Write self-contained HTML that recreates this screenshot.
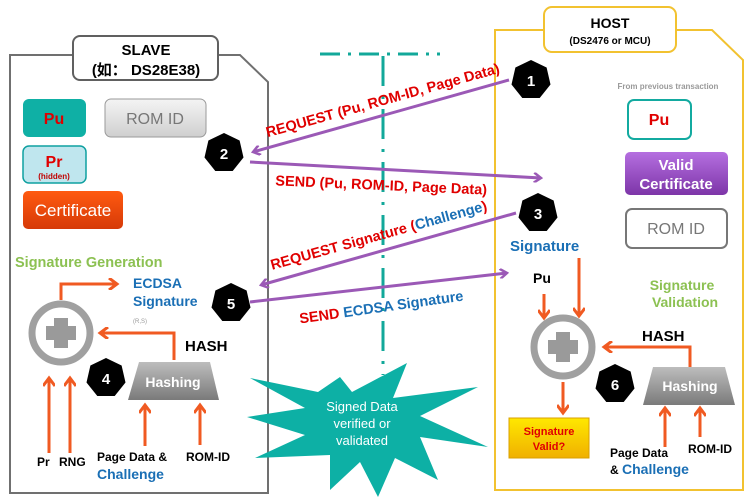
<!DOCTYPE html>
<html><head><meta charset="utf-8"><style>
body{margin:0;background:#fff}
svg{display:block;font-family:"Liberation Sans","Noto Sans CJK SC",sans-serif}
</style></head><body>
<svg width="750" height="499" viewBox="0 0 750 499" xmlns="http://www.w3.org/2000/svg">
<defs>
<polygon id="hep" points="0,-20 15.6,-12.5 19.5,4.5 8.7,18 -8.7,18 -19.5,4.5 -15.6,-12.5" fill="#000"/>
<marker id="pa" markerWidth="10" markerHeight="10" refX="8" refY="5" orient="auto" markerUnits="userSpaceOnUse"><path d="M1,0 L8,5 L1,10" fill="none" stroke="#9b59b6" stroke-width="2.5"/></marker>
<marker id="oa" markerWidth="12" markerHeight="12" refX="9" refY="6" orient="auto" markerUnits="userSpaceOnUse"><path d="M1,0 L9,6 L1,12" fill="none" stroke="#f05a22" stroke-width="3"/></marker>
<linearGradient id="gray" x1="0" y1="0" x2="0" y2="1"><stop offset="0" stop-color="#f4f4f4"/><stop offset="1" stop-color="#cfcfcf"/></linearGradient>
<linearGradient id="org" x1="0" y1="0" x2="0" y2="1"><stop offset="0" stop-color="#ff5a10"/><stop offset="1" stop-color="#d63a08"/></linearGradient>
<linearGradient id="pur" x1="0" y1="0" x2="0" y2="1"><stop offset="0" stop-color="#b56fe0"/><stop offset="1" stop-color="#7d35a8"/></linearGradient>
<linearGradient id="yel" x1="0" y1="0" x2="0" y2="1"><stop offset="0" stop-color="#ffe800"/><stop offset="1" stop-color="#f0b000"/></linearGradient>
<linearGradient id="hs" x1="0" y1="0" x2="0" y2="1"><stop offset="0" stop-color="#bdbdbd"/><stop offset="1" stop-color="#7a7a7a"/></linearGradient>
</defs>

<polygon points="10,55 240,55 268,82 268,493 10,493" fill="#fff" stroke="#707070" stroke-width="2"/>
<rect x="73" y="36" width="145" height="44" rx="7" fill="#fff" stroke="#606060" stroke-width="2"/>
<text x="146" y="55" text-anchor="middle" font-size="15" font-weight="bold">SLAVE</text>
<text x="146" y="75" text-anchor="middle" font-size="15" font-weight="bold">(如： DS28E38)</text>

<polygon points="495,30 712,30 743,60 743,490 495,490" fill="#fff" stroke="#f2c230" stroke-width="2"/>
<rect x="544" y="7" width="132" height="45" rx="8" fill="#fff" stroke="#f2c230" stroke-width="2"/>
<text x="610" y="28" text-anchor="middle" font-size="14" font-weight="bold">HOST</text>
<text x="610" y="44" text-anchor="middle" font-size="10" font-weight="bold">(DS2476 or MCU)</text>

<line x1="320" y1="54" x2="440" y2="54" stroke="#12a89a" stroke-width="3" stroke-dasharray="20,8,3,8"/>
<line x1="383" y1="56" x2="383" y2="375" stroke="#12a89a" stroke-width="3" stroke-dasharray="30,10,3,10"/>

<rect x="23" y="99" width="63" height="38" rx="6" fill="#0fb0a5"/>
<text x="54" y="124" text-anchor="middle" font-size="16" font-weight="bold" fill="#e00000">Pu</text>
<rect x="105" y="99" width="101" height="38" rx="6" fill="url(#gray)" stroke="#9a9a9a"/>
<text x="155" y="124" text-anchor="middle" font-size="16" fill="#777">ROM ID</text>
<rect x="23" y="146" width="63" height="37" rx="6" fill="#bfe6ee" stroke="#0fa0a0" stroke-width="1.5"/>
<text x="54" y="167" text-anchor="middle" font-size="16" font-weight="bold" fill="#e00000">Pr</text>
<text x="54" y="179" text-anchor="middle" font-size="8" font-weight="bold" fill="#c00000">(hidden)</text>
<rect x="23" y="191" width="100" height="38" rx="5" fill="url(#org)"/>
<text x="73" y="216" text-anchor="middle" font-size="17" fill="#fff">Certificate</text>

<text x="15" y="267" font-size="14.5" font-weight="bold" fill="#8cc152">Signature Generation</text>
<text x="133" y="288" font-size="14" font-weight="bold" fill="#1a6fb5">ECDSA</text>
<text x="133" y="306" font-size="14" font-weight="bold" fill="#1a6fb5">Signature</text>
<text x="133" y="323" font-size="6" fill="#999">(R,S)</text>

<circle cx="61" cy="333" r="29" fill="#fff" stroke="#a0a0a0" stroke-width="7"/>
<path d="M54,318 h14 v8 h8 v14 h-8 v8 h-14 v-8 h-8 v-14 h8z" fill="#9a9a9a"/>
<polyline points="61,300 61,284 117,284" fill="none" stroke="#f05a22" stroke-width="3" marker-end="url(#oa)"/>
<polyline points="174,360 174,333 100,333" fill="none" stroke="#f05a22" stroke-width="3" marker-end="url(#oa)"/>
<text x="185" y="351" font-size="15" font-weight="bold">HASH</text>
<polygon points="139,362 210,362 219,400 128,400" fill="url(#hs)"/>
<text x="173" y="387" text-anchor="middle" font-size="14" font-weight="bold" fill="#fff">Hashing</text>
<line x1="49" y1="453" x2="49" y2="378" stroke="#f05a22" stroke-width="3" marker-end="url(#oa)"/>
<line x1="70" y1="453" x2="70" y2="378" stroke="#f05a22" stroke-width="3" marker-end="url(#oa)"/>
<line x1="145" y1="446" x2="145" y2="405" stroke="#f05a22" stroke-width="3" marker-end="url(#oa)"/>
<line x1="200" y1="445" x2="200" y2="405" stroke="#f05a22" stroke-width="3" marker-end="url(#oa)"/>
<text x="37" y="466" font-size="12" font-weight="bold">Pr</text>
<text x="59" y="466" font-size="12" font-weight="bold">RNG</text>
<text x="97" y="461" font-size="12" font-weight="bold">Page Data &amp;</text>
<text x="97" y="479" font-size="14" font-weight="bold" fill="#1a6fb5">Challenge</text>
<text x="186" y="461" font-size="12" font-weight="bold">ROM-ID</text>

<text x="668" y="89" text-anchor="middle" font-size="8" font-weight="bold" fill="#999">From previous transaction</text>
<rect x="628" y="100" width="63" height="39" rx="6" fill="#fff" stroke="#13aaa0" stroke-width="2"/>
<text x="659" y="125" text-anchor="middle" font-size="16" font-weight="bold" fill="#e00000">Pu</text>
<rect x="625" y="152" width="103" height="43" rx="5" fill="url(#pur)"/>
<text x="676" y="170" text-anchor="middle" font-size="15" font-weight="bold" fill="#fff">Valid</text>
<text x="676" y="189" text-anchor="middle" font-size="15" font-weight="bold" fill="#fff">Certificate</text>
<rect x="626" y="209" width="101" height="39" rx="6" fill="#fff" stroke="#777" stroke-width="2"/>
<text x="676" y="234" text-anchor="middle" font-size="16" fill="#777">ROM ID</text>

<text x="510" y="251" font-size="15" font-weight="bold" fill="#1a6fb5">Signature</text>
<text x="533" y="283" font-size="14" font-weight="bold">Pu</text>
<text x="682" y="290" text-anchor="middle" font-size="14" font-weight="bold" fill="#8cc152">Signature</text>
<text x="685" y="307" text-anchor="middle" font-size="14" font-weight="bold" fill="#8cc152">Validation</text>
<circle cx="563" cy="347" r="29" fill="#fff" stroke="#a0a0a0" stroke-width="7"/>
<path d="M556,332 h14 v8 h8 v14 h-8 v8 h-14 v-8 h-8 v-14 h8z" fill="#9a9a9a"/>
<line x1="544" y1="294" x2="544" y2="318" stroke="#f05a22" stroke-width="3" marker-end="url(#oa)"/>
<line x1="579" y1="258" x2="579" y2="316" stroke="#f05a22" stroke-width="3" marker-end="url(#oa)"/>
<polyline points="690,367 690,347 604,347" fill="none" stroke="#f05a22" stroke-width="3" marker-end="url(#oa)"/>
<text x="642" y="341" font-size="15" font-weight="bold">HASH</text>
<line x1="563" y1="382" x2="563" y2="413" stroke="#f05a22" stroke-width="3" marker-end="url(#oa)"/>
<rect x="509" y="418" width="80" height="40" fill="url(#yel)" stroke="#d9a000"/>
<text x="549" y="435" text-anchor="middle" font-size="11" font-weight="bold" fill="#e00000">Signature</text>
<text x="549" y="450" text-anchor="middle" font-size="11" font-weight="bold" fill="#e00000">Valid?</text>
<polygon points="653,367 725,367 735,405 643,405" fill="url(#hs)"/>
<text x="690" y="391" text-anchor="middle" font-size="14" font-weight="bold" fill="#fff">Hashing</text>
<line x1="665" y1="447" x2="665" y2="408" stroke="#f05a22" stroke-width="3" marker-end="url(#oa)"/>
<line x1="700" y1="437" x2="700" y2="408" stroke="#f05a22" stroke-width="3" marker-end="url(#oa)"/>
<text x="610" y="457" font-size="12" font-weight="bold">Page Data</text>
<text x="610" y="474" font-size="12" font-weight="bold">&amp; <tspan fill="#1a6fb5" font-size="14">Challenge</tspan></text>
<text x="688" y="453" font-size="12" font-weight="bold">ROM-ID</text>

<polygon points="250,378 318,392 340,377 352,392 407,363 393,398 478,387 420,416 488,447 420,437 438,480 395,458 378,497 360,462 330,490 330,455 255,458 305,435 247,417 305,408" fill="#0db0a5"/>
<text x="362" y="411" text-anchor="middle" font-size="13" fill="#fff">Signed Data</text>
<text x="362" y="428" text-anchor="middle" font-size="13" fill="#fff">verified or</text>
<text x="362" y="445" text-anchor="middle" font-size="13" fill="#fff">validated</text>

<line x1="509" y1="80" x2="253" y2="152" stroke="#9b59b6" stroke-width="3" marker-end="url(#pa)"/>
<line x1="250" y1="162" x2="541" y2="178" stroke="#9b59b6" stroke-width="3" marker-end="url(#pa)"/>
<line x1="516" y1="213" x2="261" y2="285" stroke="#9b59b6" stroke-width="3" marker-end="url(#pa)"/>
<line x1="250" y1="302" x2="507" y2="273" stroke="#9b59b6" stroke-width="3" marker-end="url(#pa)"/>

<text transform="translate(384,105) rotate(-15.5)" text-anchor="middle" font-size="14.5" font-weight="bold" fill="#e00000">REQUEST (Pu, ROM-ID, Page Data)</text>
<text transform="translate(381,190) rotate(2.5)" text-anchor="middle" font-size="14.5" font-weight="bold" fill="#e00000">SEND (Pu, ROM-ID, Page Data)</text>
<text transform="translate(380,240) rotate(-15.5)" text-anchor="middle" font-size="14.5" font-weight="bold" fill="#e00000">REQUEST Signature (<tspan fill="#1a6fb5">Challenge</tspan>)</text>
<text transform="translate(382,312) rotate(-8)" text-anchor="middle" font-size="14.5" font-weight="bold" fill="#e00000">SEND <tspan fill="#1a6fb5">ECDSA Signature</tspan></text>

<use href="#hep" x="531" y="80"/><text x="531" y="86" text-anchor="middle" font-size="15" font-weight="bold" fill="#fff">1</text>
<use href="#hep" x="224" y="153"/><text x="224" y="159" text-anchor="middle" font-size="15" font-weight="bold" fill="#fff">2</text>
<use href="#hep" x="538" y="213"/><text x="538" y="219" text-anchor="middle" font-size="15" font-weight="bold" fill="#fff">3</text>
<use href="#hep" x="106" y="378"/><text x="106" y="384" text-anchor="middle" font-size="15" font-weight="bold" fill="#fff">4</text>
<use href="#hep" x="231" y="303"/><text x="231" y="309" text-anchor="middle" font-size="15" font-weight="bold" fill="#fff">5</text>
<use href="#hep" x="615" y="384"/><text x="615" y="390" text-anchor="middle" font-size="15" font-weight="bold" fill="#fff">6</text>
</svg>
</body></html>
